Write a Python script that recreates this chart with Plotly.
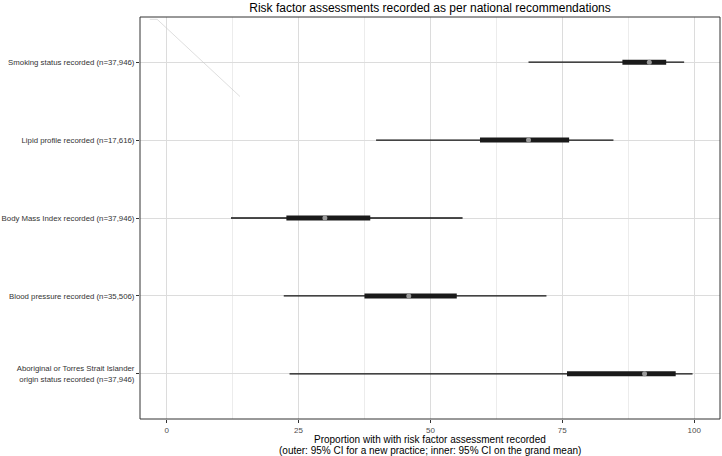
import plotly.graph_objects as go

categories = [
    "Smoking status recorded (n=37,946)",
    "Lipid profile recorded (n=17,616)",
    "Body Mass Index recorded (n=37,946)",
    "Blood pressure recorded (n=35,506)",
    "Aboriginal or Torres Strait Islander<br>origin status recorded (n=37,946)",
]
outer_lo = [68.6, 39.7, 12.2, 22.2, 23.3]
outer_hi = [98.1, 84.7, 56.1, 72.0, 99.7]
inner_lo = [86.4, 59.4, 22.7, 37.5, 75.9]
inner_hi = [94.7, 76.3, 38.6, 55.0, 96.5]
mean_val = [91.5, 68.6, 30.0, 45.9, 90.6]
x_ticks = [0, 25, 50, 75, 100]
x_title_lines = [
    "Proportion with with risk factor assessment recorded",
    "(outer: 95% CI for a new practice; inner: 95% CI on the grand mean)",
]

# faint stray line seen in the reference
stray_x = [-3.2, -1.8, 13.9]
stray_y = [0.45, 0.45, 1.44]

ypos = list(range(1, len(categories) + 1))

fig = go.Figure()
fig.add_trace(go.Scatter(x=stray_x, y=stray_y, mode="lines",
                         line=dict(color="rgba(200,200,200,0.6)", width=1),
                         hoverinfo="skip", showlegend=False))
for i, y in enumerate(ypos):
    fig.add_trace(go.Scatter(x=[outer_lo[i], outer_hi[i]], y=[y, y], mode="lines",
                             line=dict(color="#111111", width=1.3), showlegend=False))
    fig.add_trace(go.Scatter(x=[inner_lo[i], inner_hi[i]], y=[y, y], mode="lines",
                             line=dict(color="#1a1a1a", width=5), showlegend=False))
fig.add_trace(go.Scatter(x=mean_val, y=ypos, mode="markers",
                         marker=dict(color="#9a9a9a", size=5, symbol="circle"),
                         showlegend=False))

plot_h = 456 - 17 - 37
fig.update_layout(
    width=722, height=456,
    margin=dict(l=140, r=2, t=17, b=37),
    paper_bgcolor="white", plot_bgcolor="white",
    font=dict(family="Liberation Sans, Arial, sans-serif", color="#222222"),
    title=dict(text="Risk factor assessments recorded as per national recommendations",
               x=(140 + 720) / 2 / 722, xanchor="center", y=1 - 8 / 456, yanchor="middle",
               font=dict(size=12, color="#000000")),
    shapes=[dict(type="rect", xref="paper", yref="paper", x0=0, x1=1, y0=0, y1=1,
                 line=dict(color="#333333", width=1), fillcolor="rgba(0,0,0,0)", layer="above")],
    annotations=[
        dict(text=x_title_lines[0], xref="paper", yref="paper", x=0.5, y=-(439 - 419) / plot_h,
             xanchor="center", yanchor="middle", showarrow=False,
             font=dict(size=10, color="#000000")),
        dict(text=x_title_lines[1], xref="paper", yref="paper", x=0.5, y=-(450 - 419) / plot_h,
             xanchor="center", yanchor="middle", showarrow=False,
             font=dict(size=10, color="#000000")),
    ],
)
fig.update_xaxes(
    range=[-5.05, 104.9], tickvals=x_ticks, ticktext=[str(v) for v in x_ticks],
    showgrid=True, gridcolor="#dcdcdc", gridwidth=1,
    minor=dict(dtick=12.5, tick0=0, showgrid=True, gridcolor="#ececec", gridwidth=1),
    zeroline=False, showline=False, automargin=False,
    ticks="outside", ticklen=3, tickcolor="#333333",
    tickfont=dict(size=8, color="#4d4d4d"),
)
fig.update_yaxes(
    range=[5.58, 0.42], tickvals=ypos, ticktext=categories,
    showgrid=True, gridcolor="#dcdcdc", gridwidth=1,
    zeroline=False, showline=False, automargin=False,
    ticks="outside", ticklen=3, tickcolor="#333333",
    tickfont=dict(size=7.8, color="#333333"),
)

fig.write_html("out.html", config={"displayModeBar": False},
               post_script="document.body.style.margin='0';document.body.style.padding='0';")
